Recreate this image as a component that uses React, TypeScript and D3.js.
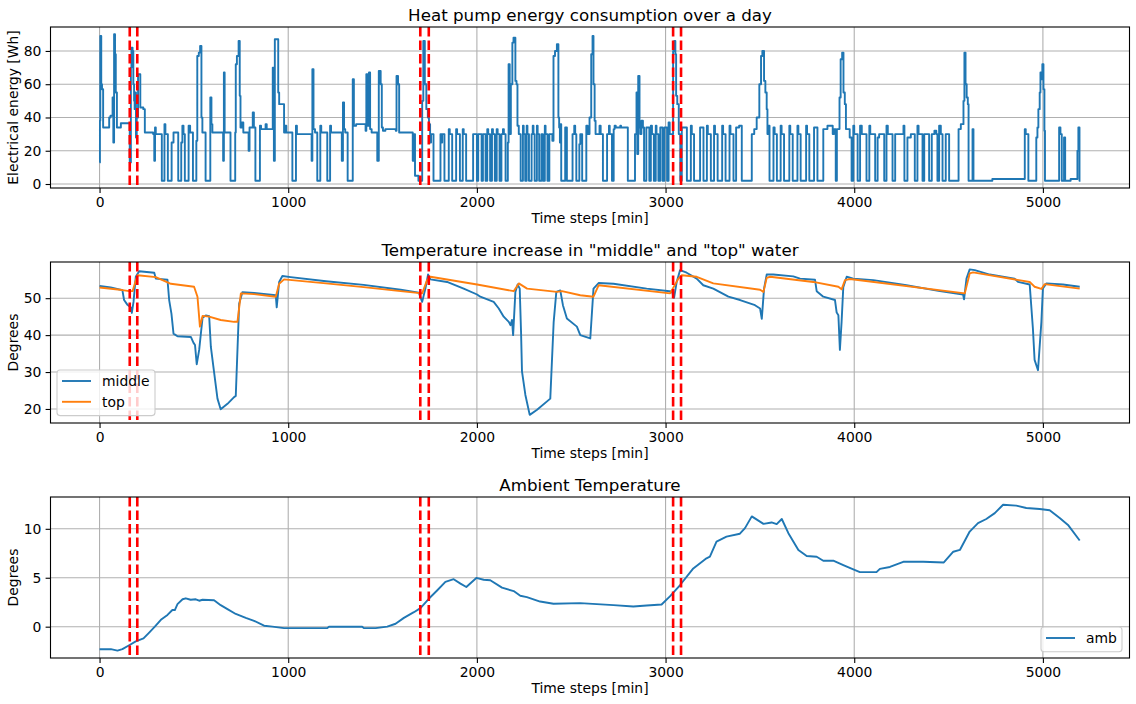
import { useEffect, useRef } from 'react'
import * as d3 from 'd3'

type Pt = [number, number]

// heat pump electrical energy, [minute, Wh] change points (held until the next one)
const energy: Pt[] = [
  [0, 13], [2, 38], [4, 89], [9, 60], [13, 57], [19, 34], [51, 40], [58, 41], [69, 52], [73, 25], [77, 90], [82, 78], [86, 55], [92, 34], [113, 36.5],
  [160, 13], [166, 70], [169, 82], [175, 80], [179, 60], [183, 50], [186, 45], [190, 55], [193, 28], [197, 40], [204, 66], [216, 46], [232, 45], [240, 31],
  [284, 30], [290, 14], [294, 34], [298, 30], [330, 2], [344, 36], [349, 30], [362, 2], [382, 25], [392, 31], [417, 2], [433, 25], [439, 35], [445, 30],
  [452, 2], [472, 35], [480, 31], [495, 2], [513, 26], [518, 77], [526, 79], [533, 83], [540, 40], [545, 31], [562, 2], [587, 52], [593, 36], [598, 31],
  [655, 14], [659, 67], [663, 31], [694, 2], [719, 31], [722, 72], [728, 77], [737, 86], [743, 53], [747, 34], [754, 37], [762, 31], [790, 20], [795, 34],
  [812, 43], [818, 34], [826, 2], [850, 35], [856, 33], [880, 36], [886, 33], [918, 70], [924, 14], [929, 87], [947, 55], [952, 48], [978, 31], [984, 35],
  [990, 31], [1022, 2], [1041, 35], [1046, 30], [1124, 14], [1128, 69], [1134, 33], [1142, 31], [1154, 2], [1170, 35], [1175, 31], [1207, 2], [1222, 35],
  [1227, 31], [1284, 14], [1290, 49], [1296, 33], [1302, 31], [1315, 2], [1342, 63], [1348, 35], [1360, 36], [1410, 32], [1414, 66], [1420, 35], [1428, 67],
  [1434, 33], [1442, 31], [1472, 14], [1480, 68], [1490, 60], [1496, 34], [1502, 32], [1515, 33], [1570, 32], [1574, 65], [1582, 60], [1588, 31],
  [1660, 14], [1664, 30], [1672, 5], [1690, 2], [1710, 50], [1716, 86], [1724, 60], [1732, 45], [1740, 40], [1746, 36], [1752, 25], [1757, 30], [1770, 2],
  [1807, 30], [1812, 25], [1816, 30], [1828, 2], [1851, 33], [1856, 30], [1869, 2], [1890, 33], [1895, 30], [1910, 2], [1925, 33], [1930, 30], [1943, 2],
  [1980, 30], [2000, 2], [2007, 30], [2025, 2], [2032, 30], [2046, 2], [2055, 33], [2060, 30], [2070, 2], [2080, 33], [2085, 30], [2095, 2], [2105, 33],
  [2110, 30], [2120, 2], [2130, 30], [2138, 33], [2143, 30], [2152, 2], [2164, 25], [2168, 72], [2174, 30], [2180, 60], [2188, 85], [2194, 88], [2204, 62],
  [2210, 60], [2215, 35], [2222, 30], [2232, 2], [2244, 35], [2248, 30], [2256, 2], [2264, 35], [2268, 30], [2276, 2], [2290, 30], [2296, 35], [2300, 30],
  [2306, 2], [2318, 35], [2322, 30], [2330, 2], [2342, 30], [2350, 2], [2360, 35], [2364, 30], [2374, 2], [2384, 30], [2400, 26], [2406, 77], [2414, 80],
  [2424, 84], [2432, 40], [2436, 34], [2440, 25], [2443, 36], [2447, 2], [2468, 34], [2477, 2], [2507, 30], [2516, 35], [2521, 30], [2527, 2], [2543, 24],
  [2548, 30], [2558, 2], [2580, 35], [2587, 30], [2597, 40], [2606, 78], [2613, 89], [2618, 60], [2624, 38], [2629, 30], [2650, 35], [2656, 30], [2668, 2],
  [2690, 30], [2700, 35], [2704, 30], [2716, 2], [2725, 33], [2730, 35], [2736, 34], [2760, 35], [2764, 34], [2790, 34], [2800, 2], [2838, 30], [2846, 55],
  [2850, 18], [2855, 65], [2862, 34], [2866, 30], [2872, 38], [2880, 34], [2886, 2], [2898, 34], [2914, 2], [2922, 35], [2928, 30], [2938, 2], [2948, 35],
  [2952, 30], [2962, 2], [2972, 34], [2984, 2], [2994, 34], [3008, 2], [3016, 37], [3022, 30], [3040, 80], [3046, 86], [3052, 78], [3056, 53], [3062, 48],
  [3070, 30], [3078, 2], [3086, 34], [3113, 2], [3134, 35], [3139, 30], [3151, 2], [3183, 34], [3201, 2], [3219, 35], [3224, 30], [3240, 2], [3257, 35],
  [3262, 30], [3276, 2], [3300, 35], [3305, 30], [3318, 2], [3339, 35], [3344, 30], [3360, 2], [3374, 34], [3390, 35], [3404, 2], [3457, 30], [3470, 33],
  [3483, 40], [3497, 60], [3506, 77], [3513, 80], [3522, 62], [3529, 55], [3536, 45], [3540, 30], [3547, 35], [3551, 2], [3572, 34], [3578, 30], [3590, 2],
  [3610, 35], [3615, 30], [3628, 2], [3656, 35], [3661, 30], [3674, 2], [3699, 35], [3704, 30], [3716, 2], [3745, 35], [3750, 30], [3762, 2], [3787, 34],
  [3805, 2], [3836, 33], [3858, 35], [3886, 30], [3893, 33], [3902, 2], [3908, 33], [3922, 52], [3928, 75], [3936, 79], [3943, 55], [3950, 48], [3956, 33],
  [3976, 28], [3986, 2], [3995, 35], [4000, 30], [4018, 2], [4031, 35], [4040, 30], [4065, 2], [4080, 35], [4085, 30], [4111, 2], [4124, 28], [4132, 30],
  [4159, 2], [4171, 35], [4178, 30], [4203, 2], [4217, 30], [4261, 35], [4266, 2], [4282, 28], [4300, 30], [4321, 2], [4335, 35], [4341, 30], [4362, 2],
  [4371, 30], [4397, 2], [4411, 30], [4425, 32], [4435, 30], [4441, 2], [4450, 35], [4459, 30], [4468, 2], [4485, 30], [4503, 2], [4553, 33], [4565, 36],
  [4579, 50], [4584, 79], [4590, 60], [4596, 52], [4602, 48], [4606, 2], [4627, 33], [4632, 2], [4732, 3], [4904, 33], [4909, 30], [4923, 2], [4965, 28],
  [4971, 34], [4976, 45], [4983, 55], [4987, 67], [4992, 63], [4997, 72], [5003, 57], [5008, 32], [5011, 2], [5086, 34], [5093, 30], [5100, 2], [5112, 28],
  [5118, 2], [5147, 3], [5183, 20], [5188, 34], [5194, 2], [5199, 2],
]

// water temperature, "middle" layer
const middle: Pt[] = [
  [0, 53.3], [59, 52.9], [121, 52.2], [130, 49.5], [148, 48.2], [166, 47.5], [171, 46], [180, 49], [192, 55.8], [210, 57.3], [290, 56.9], [298, 55.3],
  [360, 55], [369, 49.5], [381, 45.8], [392, 40.4], [413, 39.7], [484, 39.5], [498, 37.9], [506, 37.3], [515, 32.1], [528, 36], [537, 40.4], [546, 44.7],
  [563, 45.3], [581, 45.1], [590, 36.8], [607, 30], [625, 22.8], [642, 19.9], [678, 21.4], [713, 23.2], [722, 23.5], [740, 48.5], [757, 51.6], [819, 51.4],
  [934, 50.8], [939, 47.5], [952, 54.4], [969, 56], [1013, 55.7], [1200, 54.6], [1400, 53.6], [1596, 52.3], [1692, 51.5], [1710, 49], [1727, 52.6],
  [1741, 56.4], [1754, 55.1], [1842, 54.4], [1930, 52.6], [2001, 51], [2018, 50.4], [2089, 49], [2116, 47.2], [2142, 45], [2169, 43.6], [2178, 42.7],
  [2186, 44.1], [2192, 40], [2204, 51.7], [2216, 53.7], [2227, 52.6], [2234, 40.9], [2239, 30.2], [2257, 23.8], [2280, 18.4], [2319, 19.8], [2389, 22.8],
  [2407, 43.6], [2421, 51.7], [2442, 52.1], [2456, 48.1], [2477, 44.5], [2530, 42.3], [2548, 40], [2601, 39.1], [2618, 52.6], [2645, 54.1], [2724, 53.9],
  [2900, 52.6], [3033, 51.8], [3045, 50.1], [3059, 54.4], [3077, 57.6], [3112, 56.9], [3165, 55.3], [3200, 53.5], [3253, 52.6], [3333, 50.4], [3395, 49.5],
  [3474, 48.1], [3501, 47.2], [3510, 44.4], [3522, 52.6], [3536, 56.4], [3571, 56.4], [3677, 55.9], [3713, 55.3], [3792, 55], [3801, 51.9], [3836, 50.4],
  [3898, 49.5], [3907, 46.1], [3916, 45.4], [3924, 36], [3933, 43.6], [3942, 53], [3960, 55.8], [3995, 55.3], [4101, 54.9], [4277, 53.5], [4454, 51.9],
  [4577, 51], [4582, 49.7], [4595, 55.3], [4612, 57.8], [4639, 57.6], [4718, 56.4], [4850, 55.3], [4868, 54.4], [4930, 53.7], [4947, 41.8], [4956, 33.3],
  [4974, 30.5], [4992, 43.6], [5000, 52.6], [5018, 54], [5106, 53.7], [5195, 53.1],
]

// water temperature, "top" layer
const top: Pt[] = [
  [0, 52.9], [121, 52.2], [157, 51.9], [175, 51.9], [192, 54.8], [201, 56.2], [298, 55.7], [378, 53.9], [501, 53.1], [519, 50.4], [532, 42.3], [546, 45.2],
  [581, 45], [642, 44.1], [713, 43.6], [731, 43.6], [749, 51.3], [819, 51.1], [934, 50.4], [952, 53.9], [978, 55.1], [1200, 54], [1400, 53], [1596, 51.9],
  [1710, 51.3], [1736, 54.9], [1754, 55.8], [2001, 53.7], [2195, 51.9], [2222, 54], [2266, 52.6], [2424, 51.7], [2451, 51.9], [2548, 50.8], [2618, 50.4],
  [2645, 53.5], [3024, 51.3], [3068, 55.3], [3086, 56.2], [3165, 55.8], [3253, 54], [3501, 52.3], [3519, 51.7], [3536, 55.5], [3554, 55.8], [3783, 54.4],
  [3916, 53.1], [3933, 52.4], [3951, 54.9], [3977, 55.2], [4586, 51.3], [4612, 56.7], [4630, 57], [4930, 54.4], [4956, 53.1], [4992, 52.5], [5009, 53.8],
  [5195, 52.6],
]

// ambient temperature
const amb: Pt[] = [
  [0, -2.3], [60, -2.3], [95, -2.45], [121, -2.3], [157, -1.9], [192, -1.5], [233, -1.2], [263, -0.6], [293, 0], [325, 0.7], [360, 1.2], [386, 1.7],
  [399, 1.7], [413, 2.3], [440, 2.8], [457, 2.9], [483, 2.75], [510, 2.8], [528, 2.65], [546, 2.75], [607, 2.7], [642, 2.2], [678, 1.8], [722, 1.3],
  [775, 0.9], [819, 0.6], [872, 0.1], [916, 0], [978, -0.15], [1207, -0.15], [1216, 0], [1392, 0], [1401, -0.15], [1463, -0.15], [1525, 0], [1569, 0.3],
  [1613, 0.9], [1666, 1.48], [1701, 1.9], [1745, 2.85], [1789, 3.7], [1833, 4.57], [1877, 4.85], [1913, 4.4], [1944, 4.05], [1997, 4.98], [2036, 4.8],
  [2071, 4.74], [2133, 3.99], [2195, 3.64], [2230, 3.16], [2265, 3.02], [2335, 2.57], [2406, 2.34], [2547, 2.41], [2724, 2.2], [2829, 2.06], [2900, 2.16],
  [2979, 2.27], [3023, 3.09], [3076, 4.23], [3147, 5.95], [3217, 6.98], [3235, 7.15], [3270, 8.7], [3323, 9.2], [3394, 9.5], [3421, 10.07], [3457, 11.27],
  [3519, 10.5], [3562, 10.65], [3589, 10.48], [3616, 11], [3651, 9.55], [3704, 7.84], [3748, 7.22], [3801, 7.15], [3836, 6.74], [3889, 6.74], [3942, 6.29],
  [3995, 5.85], [4030, 5.57], [4118, 5.57], [4136, 5.9], [4189, 6.1], [4260, 6.63], [4366, 6.63], [4475, 6.56], [4525, 7.66], [4560, 7.84], [4612, 9.72],
  [4656, 10.58], [4700, 11], [4745, 11.6], [4789, 12.46], [4859, 12.37], [4912, 12.13], [4983, 12.03], [5036, 11.89], [5089, 11.1], [5133, 10.4], [5195, 8.8],
]

const eventLines = [160, 200, 1700, 1745, 3040, 3082]
const xTicks = [0, 1000, 2000, 3000, 4000, 5000]
const energyTicks = [0, 20, 40, 60, 80]
const tempTicks = [20, 30, 40, 50]
const ambTicks = [0, 5, 10]

const W = 1136
const H = 704
const LEFT = 50.5
const RIGHT = 1129.5
const PH = 161
const BLUE = '#1f77b4'
const ORANGE = '#ff7f0e'
const FONT = '"DejaVu Sans", sans-serif'

export default function App() {
  const ref = useRef<SVGSVGElement>(null)

  useEffect(() => {
    document.body.style.margin = '0'
    const svg = d3.select(ref.current)
    svg.selectAll('*').remove()

    const x = d3.scaleLinear().domain([-260, 5459]).range([LEFT, RIGHT])

    const panels = [
      {
        top: 27, title: 'Heat pump energy consumption over a day', ylabel: 'Electrical energy [Wh]',
        domain: [-2.4, 94.4], ticks: energyTicks,
        series: [{ data: energy, color: BLUE, step: true, name: '' }], legend: null as null | { x: number, y: number, w: number },
      },
      {
        top: 262, title: 'Temperature increase in "middle" and "top" water', ylabel: 'Degrees',
        domain: [16.2, 59.8], ticks: tempTicks,
        series: [{ data: middle, color: BLUE, step: false, name: 'middle' }, { data: top, color: ORANGE, step: false, name: 'top' }],
        legend: { x: 57, y: 370, w: 98 },
      },
      {
        top: 497, title: 'Ambient Temperature', ylabel: 'Degrees',
        domain: [-3.2, 13.25], ticks: ambTicks,
        series: [{ data: amb, color: BLUE, step: false, name: 'amb' }],
        legend: { x: 1041, y: 627, w: 81 },
      },
    ]

    panels.forEach(p => {
      const bottom = p.top + PH
      const y = d3.scaleLinear().domain(p.domain).range([bottom, p.top])
      const g = svg.append('g')

      // grid
      g.selectAll('.gx').data(xTicks).enter().append('line')
        .attr('x1', d => x(d)).attr('x2', d => x(d)).attr('y1', p.top).attr('y2', bottom)
        .attr('stroke', '#b0b0b0').attr('stroke-width', 1.1)
      g.selectAll('.gy').data(p.ticks).enter().append('line')
        .attr('x1', LEFT).attr('x2', RIGHT).attr('y1', d => y(d)).attr('y2', d => y(d))
        .attr('stroke', '#b0b0b0').attr('stroke-width', 1.1)

      // series
      p.series.forEach(s => {
        const line = d3.line<Pt>().x(d => x(d[0])).y(d => y(d[1]))
          .curve(s.step ? d3.curveStepAfter : d3.curveLinear)
        g.append('path').attr('d', line(s.data) || '')
          .attr('fill', 'none').attr('stroke', s.color).attr('stroke-width', 1.9)
          .attr('stroke-linejoin', 'round')
      })

      // event markers
      g.selectAll('.ev').data(eventLines).enter().append('line')
        .attr('x1', d => x(d)).attr('x2', d => x(d)).attr('y1', p.top).attr('y2', bottom)
        .attr('stroke', 'red').attr('stroke-width', 2.6).attr('stroke-dasharray', '9.5,4')

      // axes
      const xa = g.append('g').attr('transform', `translate(0,${bottom})`)
        .call(d3.axisBottom(x).tickValues(xTicks).tickSize(4.9).tickPadding(4.2).tickFormat(d3.format('d')))
      const ya = g.append('g').attr('transform', `translate(${LEFT},0)`)
        .call(d3.axisLeft(y).tickValues(p.ticks).tickSize(4.9).tickPadding(4.2).tickFormat(d3.format('d')))
      ;[xa, ya].forEach(a => {
        a.select('.domain').remove()
        a.selectAll('line').attr('stroke', '#000').attr('stroke-width', 1.1)
        a.selectAll('text').attr('fill', '#000').style('font-family', FONT).style('font-size', '13.9px')
      })

      // frame
      g.append('rect').attr('x', LEFT).attr('y', p.top).attr('width', RIGHT - LEFT).attr('height', PH)
        .attr('fill', 'none').attr('stroke', '#000').attr('stroke-width', 1.1)

      // labels
      g.append('text').attr('x', (LEFT + RIGHT) / 2).attr('y', p.top - 6.5).attr('text-anchor', 'middle')
        .style('font-family', FONT).style('font-size', '16.7px').text(p.title)
      g.append('text').attr('x', (LEFT + RIGHT) / 2).attr('y', bottom + 35).attr('text-anchor', 'middle')
        .style('font-family', FONT).style('font-size', '13.9px').text('Time steps [min]')
      g.append('text').attr('transform', `translate(17.5,${p.top + PH / 2}) rotate(-90)`).attr('text-anchor', 'middle')
        .style('font-family', FONT).style('font-size', '13.9px').text(p.ylabel)

      // legend
      if (p.legend) {
        const lg = p.legend
        const rowH = 20.8
        const hgt = 8 + rowH * p.series.length - 4
        g.append('rect').attr('x', lg.x).attr('y', lg.y).attr('width', lg.w).attr('height', hgt)
          .attr('rx', 3).attr('fill', '#fff').attr('fill-opacity', 0.8).attr('stroke', '#cccccc').attr('stroke-width', 1.1)
        p.series.forEach((s, i) => {
          const cy = lg.y + 11 + i * rowH
          g.append('line').attr('x1', lg.x + 5).attr('x2', lg.x + 34).attr('y1', cy).attr('y2', cy)
            .attr('stroke', s.color).attr('stroke-width', 1.9)
          g.append('text').attr('x', lg.x + 45).attr('y', cy + 5).style('font-family', FONT).style('font-size', '13.9px').text(s.name)
        })
      }
    })
  }, [])

  return <svg ref={ref} width={W} height={H} style={{ display: 'block', background: '#fff' }} />
}
